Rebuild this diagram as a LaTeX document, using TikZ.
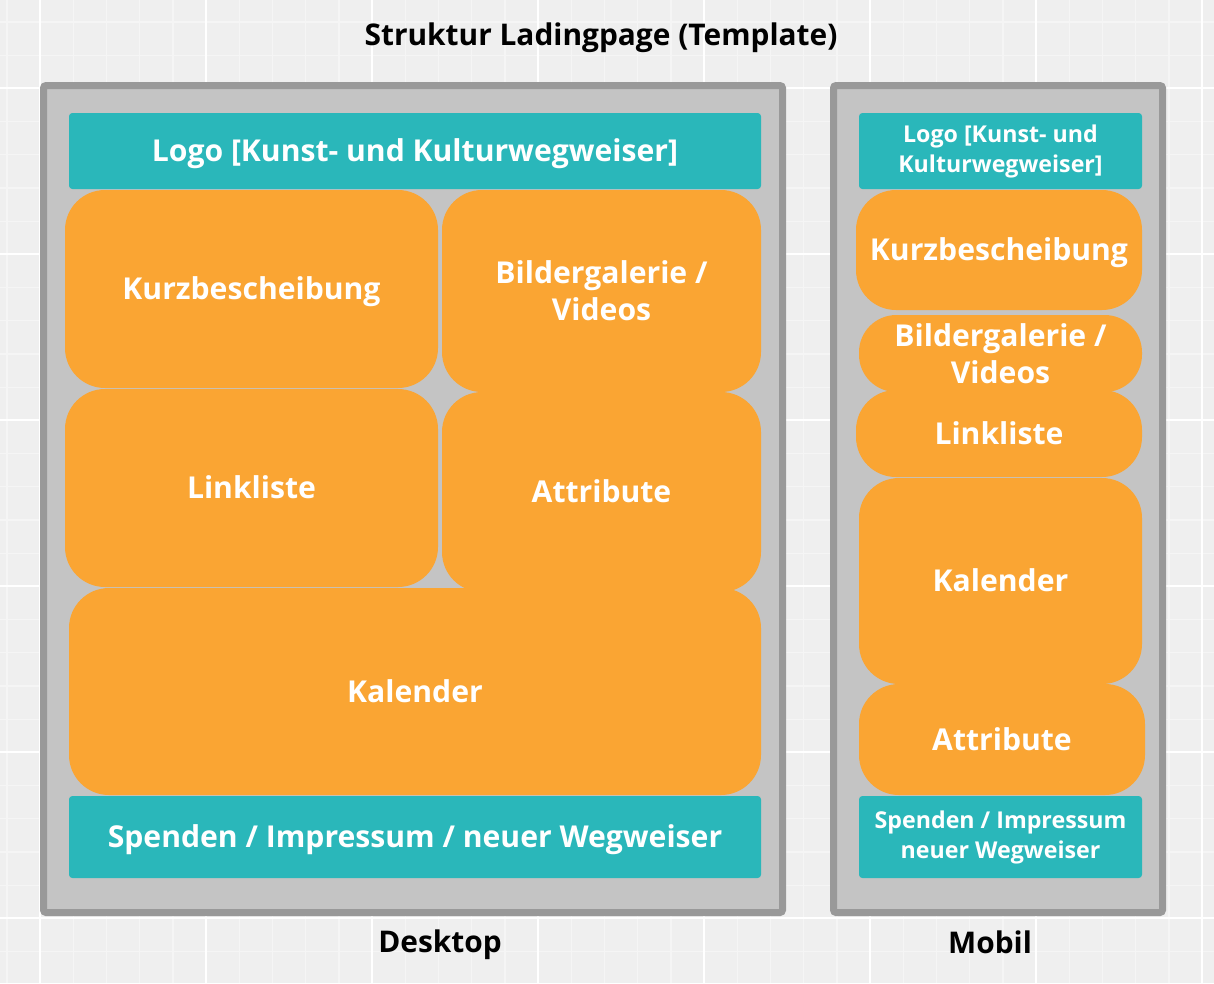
\documentclass[tikz,border=0pt]{standalone}
\usepackage{fontspec}
\setmainfont{Open Sans}[BoldFont={* Bold}]
\definecolor{bgc}{HTML}{EFEFEF}
\definecolor{minorc}{HTML}{F5F5F5}
\definecolor{frame}{HTML}{999999}
\definecolor{inner}{HTML}{C4C4C4}
\definecolor{teal}{HTML}{2AB7BA}
\definecolor{orng}{HTML}{FAA533}
\tikzset{
  base/.style={inner sep=0pt, outer sep=0pt, align=center, text=white, font=\bfseries\fontsize{22.6pt}{27.5pt}\selectfont},
  oneline/.style={text height=21.8pt, text depth=5.6pt},
  tealbox/.style={base, fill=teal, rounded corners=2.5pt},
  orbox/.style={base, fill=orng, rounded corners=30pt},
  small/.style={font=\bfseries\fontsize{17.4pt}{22.5pt}\selectfont},
  label/.style={inner sep=0pt, anchor=base, text=black, font=\bfseries\fontsize{22.4pt}{26pt}\selectfont},
  device/.style={draw=frame, fill=inner, line width=5.25pt, rounded corners=2pt}
}
% style, x1, y1, x2, y2, name, text (pixel coordinates)
\newcommand\blk[7]{\node[#1, minimum width={(#4-#2)*0.75pt}, minimum height={(#5-#3)*0.75pt}] (#6) at ({(#2+#4)/2},{(#3+#5)/2}) {#7};}
\begin{document}
\begin{tikzpicture}[x=0.75pt,y=-0.75pt]
\useasboundingbox (0,0) rectangle (1214,983);
\fill[bgc] (0,0) rectangle (1214,983);
% grid
\foreach \i in {0,...,37} {
  \draw[minorc, line width=0.8pt] ({7+33.2*\i},0) -- ({7+33.2*\i},983);
  \draw[minorc, line width=0.8pt] (0,{22+33.2*\i}) -- (1214,{22+33.2*\i});
}
\foreach \i in {0,...,7} {
  \draw[white, line width=1.2pt] ({40+166*\i},0) -- ({40+166*\i},983);
  \draw[white, line width=1.2pt] (0,{88+166*\i}) -- (1214,{88+166*\i});
}
% title
\node[label] (title) at (601,45) {Struktur Ladingpage (Template)};
% device frames
\draw[device] (43.5,85.5) rectangle (782.5,912.5);
\draw[device] (833.5,85.5) rectangle (1162.5,912.5);
% desktop
\blk{tealbox,oneline}{69}{113}{761}{189}{dlogo}{Logo [Kunst- und Kulturwegweiser]}
\blk{orbox,oneline}{65}{190}{438}{388}{dkurz}{Kurzbescheibung}
\blk{orbox}{442}{190}{761}{392}{dbild}{Bildergalerie /\\Videos}
\blk{orbox,oneline}{65}{389}{438}{587}{dlink}{Linkliste}
\blk{orbox,oneline}{442}{392}{761}{592}{dattr}{Attribute}
\blk{orbox,oneline}{69}{588}{761}{795}{dkal}{Kalender}
\blk{tealbox,oneline}{69}{796}{761}{878}{dspend}{Spenden / Impressum / neuer Wegweiser}
% mobile
\blk{tealbox,small}{859}{113}{1142}{189}{mlogo}{Logo [Kunst- und\\Kulturwegweiser]}
\blk{orbox,oneline}{856}{190}{1142}{310}{mkurz}{Kurzbescheibung}
\blk{orbox,rounded corners=28pt}{859}{315}{1142}{392}{mbild}{Bildergalerie /\\Videos}
\blk{orbox,oneline,rounded corners=30pt}{856}{390}{1142}{477}{mlink}{Linkliste}
\blk{orbox,oneline}{859}{478}{1142}{684}{mkal}{Kalender}
\blk{orbox,oneline}{859}{684}{1145}{795}{mattr}{Attribute}
\blk{tealbox,small}{859}{796}{1142}{878}{mspend}{Spenden / Impressum\\neuer Wegweiser}
% captions
\node[label] (cdesk) at (440,952) {Desktop};
\node[label] (cmob) at (990,953) {Mobil};
\end{tikzpicture}
\end{document}
